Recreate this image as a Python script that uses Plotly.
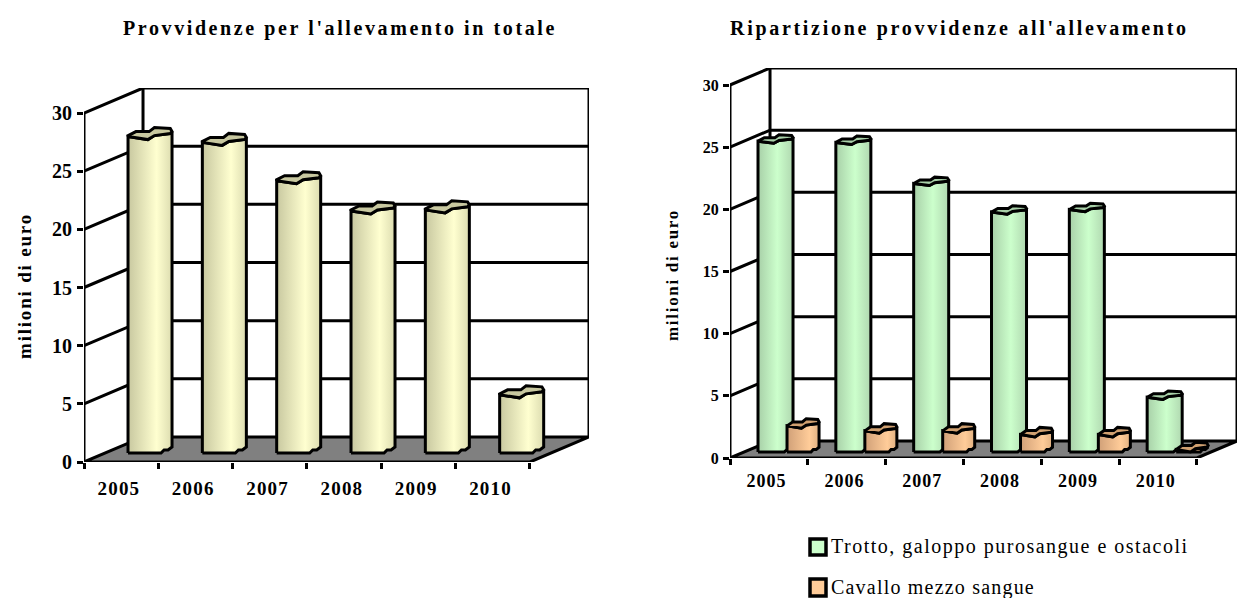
import plotly.graph_objects as go

years = ["2005", "2006", "2007", "2008", "2009", "2010"]
totale = [27.2, 26.7, 23.4, 20.8, 20.9, 5.0]
trotto = [25.0, 24.9, 21.6, 19.3, 19.5, 4.4]
mezzosangue = [2.1, 1.7, 1.7, 1.4, 1.4, 0.2]
y_ticks = [0, 5, 10, 15, 20, 25, 30]
title_left = "Provvidenze per l'allevamento in totale"
title_right = "Ripartizione provvidenze all'allevamento"
y_title = "milioni di euro"
legend_names = ["Trotto, galoppo purosangue e ostacoli", "Cavallo mezzo sangue"]

W, H = 1237, 598
FONT = "Liberation Serif"
LW = 3

fig = go.Figure()


def spaced(s, px):
    return f'<span style="letter-spacing:{px}px">{s}</span>'


def line(xa, ya, xs, ys, width=LW, fill=None, fillcolor=None):
    fig.add_trace(go.Scatter(x=xs, y=ys, xaxis=xa, yaxis=ya, mode="lines", cliponaxis=False,
                             line=dict(color="black", width=width), fill=fill, fillcolor=fillcolor,
                             showlegend=False, hoverinfo="skip"))


def bar(xa, ya, x_left, value, width_px, base_px, sx, sy, k, grad, cap):
    w = width_px / sx
    X = lambda u: x_left + u * w
    Y = lambda px: base_px / sy + px / sy
    h = value * sy
    body = [(0, 0), (0.75, 0), (0.82, 3 * k), (0.91, 3 * k), (1, 6 * k), (1, h + 3 * k), (0.96, h + 3 * k),
            (0.60, h + 1 * k), (0.45, h - 3 * k), (0, h), (0, 0)]
    top = [(0, h), (0.45, h - 3 * k), (0.60, h + 1 * k), (0.96, h + 3 * k), (1, h + 5 * k), (0.96, h + 8 * k),
           (0.60, h + 9 * k), (0.48, h + 5 * k), (0.18, h + 5 * k), (0, h + 1 * k), (0, h)]
    fig.add_trace(go.Scatter(x=[X(u) for u, _ in body], y=[Y(p) for _, p in body], xaxis=xa, yaxis=ya,
                             mode="lines", cliponaxis=False, line=dict(color="black", width=LW), fill="toself",
                             fillgradient=dict(type="horizontal", colorscale=grad),
                             showlegend=False, hoverinfo="skip"))
    fig.add_trace(go.Scatter(x=[X(u) for u, _ in top], y=[Y(p) for _, p in top], xaxis=xa, yaxis=ya,
                             mode="lines", cliponaxis=False, line=dict(color="black", width=LW), fill="toself",
                             fillcolor=cap, showlegend=False, hoverinfo="skip"))


def frame(xa, ya, dx, dy):
    n = len(years)
    line(xa, ya, [0, n, n + dx, dx, 0], [0, 0, dy, dy, 0], fill="toself", fillcolor="#808080")
    for v in y_ticks[1:]:
        line(xa, ya, [0, dx, n + dx], [v, v + dy, v + dy])
    line(xa, ya, [dx, dx], [dy, y_ticks[-1] + dy])
    line(xa, ya, [n + dx, n + dx], [dy, y_ticks[-1] + dy])
    line(xa, ya, [0, 0], [0, y_ticks[-1]])


def axes(suffix, px0, px1, py_top, py_bot, dx, dy, tick_size, y_size, standoff, spacing):
    n = len(years)
    fig.layout["xaxis" + suffix] = dict(
        domain=[px0 / W, px1 / W], range=[0, n + dx], showgrid=False, zeroline=False,
        automargin=False, anchor="y" + suffix, tickmode="array", tickvals=[i + 0.47 for i in range(n)],
        ticktext=[spaced(y, spacing) for y in years], ticks="",
        tickfont=dict(family=FONT, size=tick_size, color="black", weight="bold"), ticklabelstandoff=standoff,
        minor=dict(tickmode="array", tickvals=list(range(n + 1)), ticks="outside", ticklen=6, tickwidth=2.5,
                   tickcolor="black", showgrid=False))
    fig.layout["yaxis" + suffix] = dict(
        domain=[1 - py_bot / H, 1 - py_top / H], range=[0, y_ticks[-1] + dy], showgrid=False,
        zeroline=False, automargin=False, anchor="x" + suffix, tickmode="array", tickvals=y_ticks, ticks="outside",
        ticklen=6, tickwidth=3, tickcolor="black", ticklabelstandoff=1,
        tickfont=dict(family=FONT, size=y_size, color="black", weight="bold"))


def text(x, y, s, size, bold=True, angle=0, anchor="center", spacing=0):
    fig.add_annotation(xref="paper", yref="paper", x=x / W, y=1 - y / H, text=spaced(s, spacing),
                       showarrow=False, textangle=angle, xanchor=anchor, yanchor="middle",
                       font=dict(family=FONT, size=size, color="black", weight="bold" if bold else "normal"))


GRAD_Y = [[0, "#c8c8a0"], [0.65, "#ffffd0"], [1, "#dcdcb0"]]
GRAD_G = [[0, "#a8d0a8"], [0.55, "#ccffcc"], [1, "#b0d8b0"]]
GRAD_O = [[0, "#d0a078"], [0.7, "#ffcc99"], [1, "#e0b080"]]

# left chart
sx1, sy1 = 74.3, 11.63
dx1, dy1 = 59 / sx1, 25 / sy1
axes("", 84, 589, 88, 462, dx1, dy1, 19, 20, 13, 1.2)
frame("x", "y", dx1, dy1)
for i, v in enumerate(totale):
    bar("x", "y", i + 44 / sx1, v, 44, 9, sx1, sy1, 1, GRAD_Y, "#c8c8a0")

# right chart
sx2, sy2 = 77.8, 12.43
dx2, dy2 = 40 / sx2, 17 / sy2
axes("2", 730, 1237, 68, 458, dx2, dy2, 18, 16, 10, 1)
frame("x2", "y2", dx2, dy2)
for i, (g, o) in enumerate(zip(trotto, mezzosangue)):
    bar("x2", "y2", i + 28 / sx2, g, 35, 6, sx2, sy2, 0.7, GRAD_G, "#a8d0a8")
    bar("x2", "y2", i + 57 / sx2, o, 32, 6, sx2, sy2, 0.8, GRAD_O, "#d0a070")

text(340, 29, title_left, 20, spacing=2.6)
text(960, 29, title_right, 20, spacing=2.7)
text(24, 286, y_title, 19, angle=-90, spacing=1.8)
text(672, 275, y_title, 17, angle=-90, spacing=1.7)

# legend
for (top, bottom, ty, col, name, sp) in zip([539, 579], [555, 596], [546, 587], ["#ccffcc", "#ffcc99"],
                                            legend_names, [1.5, 1.2]):
    fig.add_shape(type="rect", xref="paper", yref="paper", x0=810 / W, x1=826 / W,
                  y0=1 - top / H, y1=1 - bottom / H, fillcolor=col,
                  line=dict(color="black", width=3.5))
    text(829, ty, name, 20, bold=False, anchor="left", spacing=sp)

fig.update_layout(width=W, height=H, margin=dict(l=0, r=0, t=0, b=0), autosize=False, showlegend=False,
                  paper_bgcolor="white", plot_bgcolor="white")
fig.write_html("out.html", config=dict(displayModeBar=False),
               post_script="document.body.style.margin='0';document.body.style.overflow='hidden';")
